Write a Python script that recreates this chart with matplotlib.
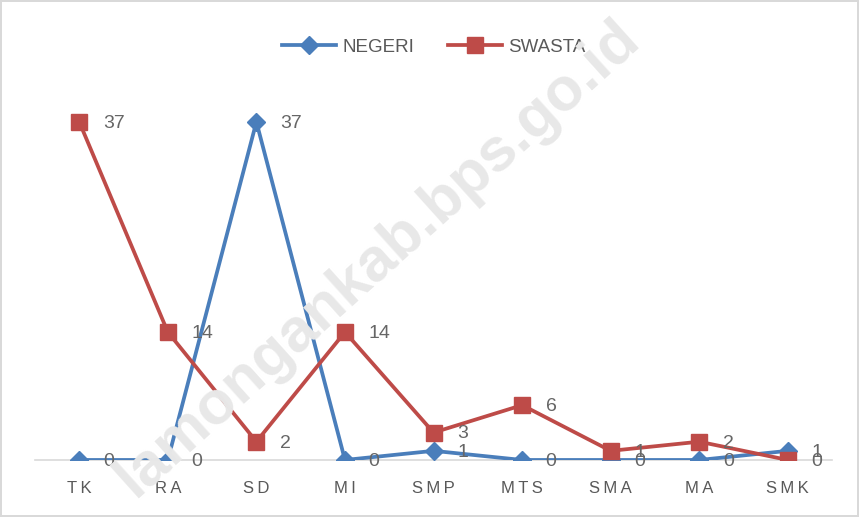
import matplotlib.pyplot as plt
import numpy as np

categories = ['TK', 'RA', 'SD', 'MI', 'SMP', 'MTS', 'SMA', 'MA', 'SMK']
negeri = [0, 0, 37, 0, 1, 0, 0, 0, 1]
swasta = [37, 14, 2, 14, 3, 6, 1, 2, 0]

plt.rcParams['font.family'] = ['Liberation Sans', 'DejaVu Sans']

fig = plt.figure(figsize=(8.59, 5.17), dpi=100)
fig.patch.set_edgecolor('#d9d9d9')
fig.patch.set_linewidth(1.5)
ax = fig.add_axes([0.0407, 0.1103, 0.928, 0.707])

x = np.arange(len(categories))
blue = '#4a7ebb'
red = '#be4b48'
ax.plot(x, negeri, color=blue, lw=2.7, marker='D', ms=9, label='NEGERI', zorder=3)
ax.plot(x, swasta, color=red, lw=2.7, marker='s', ms=11, label='SWASTA', zorder=4)

for xi, v in zip(x, negeri):
    ax.annotate(str(v), (xi, v), xytext=(17, -1), textcoords='offset points',
                ha='left', va='center', fontsize=14, color='#666666', zorder=5)
for xi, v in zip(x, swasta):
    ax.annotate(str(v), (xi, v), xytext=(17, -1), textcoords='offset points',
                ha='left', va='center', fontsize=14, color='#666666', zorder=5)

ax.set_xlim(-0.5, 8.5)
ax.set_ylim(0, 40)
ax.set_xticks(x)
ax.set_xticklabels(['\u2009'.join(c) for c in categories], fontsize=12, color='#595959')
ax.tick_params(axis='x', length=0, pad=15)
ax.set_yticks([])
for s in ['top', 'right', 'left']:
    ax.spines[s].set_visible(False)
ax.spines['bottom'].set_color('#d9d9d9')
ax.spines['bottom'].set_linewidth(1.2)
ax.spines['bottom'].set_zorder(1)

leg = ax.legend(loc='lower center', bbox_to_anchor=(0.5, 1.06), ncol=2, frameon=False,
                fontsize=13.5, handlelength=2.9, columnspacing=1.8, handletextpad=0.3)
for t in leg.get_texts():
    t.set_color('#595959')

# watermark
fig.text(0.44, 0.5, 'lamongankab.bps.go.id', rotation=42, fontsize=44, fontweight='bold',
         color='#e8e8e8', ha='center', va='center', zorder=0)

plt.savefig('out.png', dpi=100)
plt.close()
